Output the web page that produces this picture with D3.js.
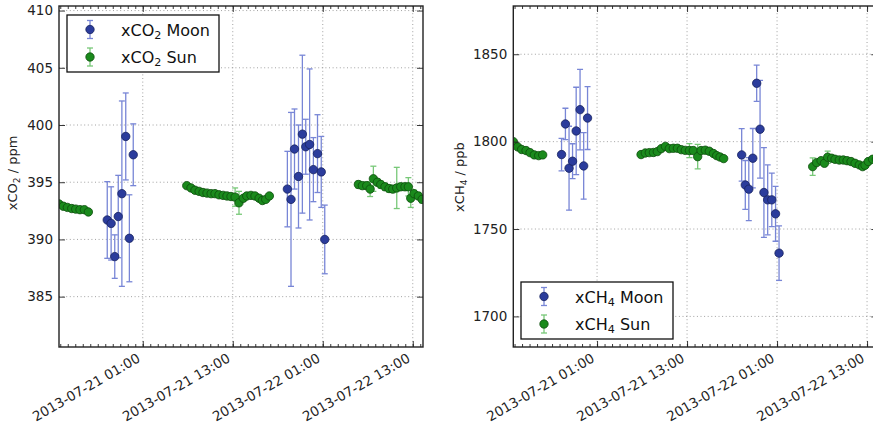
<!DOCTYPE html>
<html>
<head>
<meta charset="utf-8">
<script src="https://cdn.jsdelivr.net/npm/d3@7"></script>
<style>
body { margin: 0; background: #fff; }
svg { display: block; font-family: "DejaVu Sans", sans-serif; }
</style>
</head>
<body>
<svg width="873" height="431"></svg>
<script>
// observation times
var moonTimes = ["2013-07-20 20:16", "2013-07-20 20:47", "2013-07-20 21:16", "2013-07-20 21:44",
	"2013-07-20 22:13", "2013-07-20 22:44", "2013-07-20 23:13", "2013-07-20 23:44",
	"2013-07-21 20:17", "2013-07-21 20:46", "2013-07-21 21:14", "2013-07-21 21:46",
	"2013-07-21 22:17", "2013-07-21 22:44", "2013-07-21 23:15", "2013-07-21 23:45",
	"2013-07-22 00:18", "2013-07-22 00:48", "2013-07-22 01:16"];

var sunTimes = ["2013-07-20 13:50", "2013-07-20 14:25", "2013-07-20 14:57", "2013-07-20 15:32",
	"2013-07-20 16:04", "2013-07-20 16:38", "2013-07-20 17:13", "2013-07-20 17:45",
	"2013-07-21 06:52", "2013-07-21 07:26", "2013-07-21 07:58", "2013-07-21 08:31",
	"2013-07-21 09:02", "2013-07-21 09:34", "2013-07-21 10:07", "2013-07-21 10:38",
	"2013-07-21 11:10", "2013-07-21 11:43", "2013-07-21 12:14", "2013-07-21 12:46",
	"2013-07-21 13:19", "2013-07-21 13:50", "2013-07-21 14:25", "2013-07-21 14:52",
	"2013-07-21 15:26", "2013-07-21 15:58", "2013-07-21 16:31", "2013-07-21 16:57",
	"2013-07-21 17:24", "2013-07-21 17:53",
	"2013-07-22 05:45", "2013-07-22 06:17", "2013-07-22 06:52", "2013-07-22 07:19",
	"2013-07-22 07:45", "2013-07-22 08:17", "2013-07-22 08:44", "2013-07-22 09:18",
	"2013-07-22 09:50", "2013-07-22 10:20", "2013-07-22 10:52", "2013-07-22 11:24",
	"2013-07-22 11:58", "2013-07-22 12:25", "2013-07-22 12:44", "2013-07-22 13:10",
	"2013-07-22 13:45", "2013-07-22 14:15"];

// xCO2 (ppm)
var co2Moon = [391.7, 391.4, 388.5, 392.0, 394.0, 399.0, 390.1, 397.4,
	394.4, 393.5, 397.9, 395.5, 399.2, 398.1, 398.3, 396.1, 397.5, 395.9, 390.0];
var co2MoonErr = [3.35, 3.2, 1.9, 3.6, 8.1, 3.8, 3.8, 2.7,
	3.3, 7.6, 3.5, 4.5, 6.9, 2.4, 6.6, 2.8, 3.4, 3.1, 3.0];
var co2Sun = [393.1, 392.9, 392.8, 392.7, 392.65, 392.6, 392.6, 392.4,
	394.7, 394.5, 394.3, 394.2, 394.1, 394.05, 394.0, 394.0, 393.9, 393.85, 393.8, 393.75,
	393.7, 393.2, 393.6, 393.8, 393.85, 393.8, 393.6, 393.4, 393.5, 393.8,
	394.8, 394.7, 394.7, 394.4, 395.3, 395.0, 394.8, 394.6, 394.45, 394.4, 394.5, 394.6,
	394.6, 394.6, 393.6, 394.0, 393.8, 393.5];
var co2SunErr = [0.15, 0.15, 0.15, 0.15, 0.15, 0.15, 0.15, 0.15,
	0.15, 0.15, 0.15, 0.15, 0.15, 0.15, 0.15, 0.15, 0.15, 0.15, 0.15, 0.15,
	0.8, 1.0, 0.15, 0.15, 0.15, 0.15, 0.15, 0.15, 0.15, 0.15,
	0.3, 0.3, 0.3, 0.65, 1.1, 0.3, 0.3, 0.3, 0.3, 0.3, 1.8, 0.3,
	0.3, 0.8, 0.8, 0.3, 0.3, 0.3];

// xCH4 (ppb)
var ch4Moon = [1792.6, 1810.1, 1784.8, 1788.8, 1806.1, 1818.3, 1786.1, 1813.5,
	1792.4, 1775.2, 1772.8, 1790.5, 1833.4, 1807.1, 1770.9, 1766.7, 1766.7, 1758.7, 1736.2];
var ch4MoonErr = [9.3, 9, 24, 10, 25, 23, 19, 18,
	15, 14, 18, 17, 10.4, 28, 25.7, 20, 15.3, 15.7, 15.6];
var ch4Sun = [1800, 1797, 1795.5, 1794.9, 1793.7, 1792.4, 1792.0, 1792.4,
	1792.6, 1793.5, 1793.7, 1793.8, 1794.3, 1796.0, 1797.3, 1796.0, 1796.2, 1796.2, 1795.4, 1795.0,
	1794.9, 1794.9, 1791.4, 1794.9, 1795.1, 1794.5, 1793.2, 1792.0, 1791.2, 1790.3,
	1785.7, 1788.0, 1789.1, 1787.6, 1791.1, 1790.5, 1789.9, 1789.5, 1789.5, 1789.1, 1788.6, 1787.6,
	1786.7, 1785.7, 1786.5, 1788.6, 1789.9, 1790.0];
var ch4SunErr = [1, 1, 1, 1, 1, 1, 1, 1,
	1, 1, 1, 1, 1, 1, 1, 1, 1, 1, 1, 1,
	4, 1, 7, 1, 1, 1, 1, 1, 1, 1,
	5, 1, 1, 1, 3.5, 1, 1, 1, 1, 1, 1, 1,
	1, 1, 1, 1, 1, 1];

var xRange = ["2013-07-20 13:50", "2013-07-22 14:22"];
var xTicks = ["2013-07-21 01:00", "2013-07-21 13:00", "2013-07-22 01:00", "2013-07-22 13:00"];
var xTickLabels = ["2013-07-21 01:00", "2013-07-21 13:00", "2013-07-22 01:00", "2013-07-22 13:00"];
var co2Ticks = [385, 390, 395, 400, 405, 410];
var ch4Ticks = [1700, 1750, 1800, 1850];

var parseTime = d3.timeParse("%Y-%m-%d %H:%M");
var svg = d3.select("svg");

var blue = { fill: "#2b3c9c", edge: "#18235e", err: "#7886d6" };
var green = { fill: "#1a8a1c", edge: "#0c4c0d", err: "#78c878" };

var top_ = 6, bottom_ = 347, plotW = 364;

function drawSeries(g, x, y, times, vals, errs, c) {
	var pts = times.map(function (t, i) {
		return { t: parseTime(t), v: vals[i], e: errs[i] };
	});
	var eb = g.append("g").attr("stroke", c.err).attr("stroke-width", 1.3);
	eb.selectAll(".bar").data(pts).enter().append("line")
		.attr("x1", function (d) { return x(d.t); })
		.attr("x2", function (d) { return x(d.t); })
		.attr("y1", function (d) { return y(d.v - d.e); })
		.attr("y2", function (d) { return y(d.v + d.e); });
	[-1, 1].forEach(function (s) {
		eb.selectAll(".cap" + s).data(pts).enter().append("line")
			.attr("x1", function (d) { return x(d.t) - 3; })
			.attr("x2", function (d) { return x(d.t) + 3; })
			.attr("y1", function (d) { return y(d.v + s * d.e); })
			.attr("y2", function (d) { return y(d.v + s * d.e); });
	});
	g.append("g").selectAll("circle").data(pts).enter().append("circle")
		.attr("cx", function (d) { return x(d.t); })
		.attr("cy", function (d) { return y(d.v); })
		.attr("r", 4.2)
		.attr("fill", c.fill)
		.attr("stroke", c.edge)
		.attr("stroke-width", 0.8);
}

function label(sel, pre, sub, post, size) {
	sel.append("tspan").text(pre);
	sel.append("tspan").attr("font-size", size * 0.7).attr("dy", size * 0.2).text(sub);
	sel.append("tspan").attr("dy", -size * 0.2).text(post);
}

function panel(p) {
	var x = d3.scaleTime().domain(xRange.map(parseTime)).range([p.left, p.left + plotW]);
	var y = d3.scaleLinear().domain(p.yDomain).range([bottom_, top_]);

	svg.append("clipPath").attr("id", "clip" + p.id)
		.append("rect").attr("x", p.left).attr("y", top_)
		.attr("width", plotW).attr("height", bottom_ - top_);

	// grid
	var grid = svg.append("g").attr("stroke", "#8a8a8a").attr("stroke-width", 0.8)
		.attr("stroke-dasharray", "1,2.6");
	grid.selectAll(".gx").data(xTicks).enter().append("line")
		.attr("x1", function (d) { return x(parseTime(d)); })
		.attr("x2", function (d) { return x(parseTime(d)); })
		.attr("y1", top_).attr("y2", bottom_);
	grid.selectAll(".gy").data(p.yTicks).enter().append("line")
		.attr("x1", p.left).attr("x2", p.left + plotW)
		.attr("y1", function (d) { return y(d); })
		.attr("y2", function (d) { return y(d); });

	var data = svg.append("g").attr("clip-path", "url(#clip" + p.id + ")");
	drawSeries(data, x, y, moonTimes, p.moon, p.moonErr, blue);
	drawSeries(data, x, y, sunTimes, p.sun, p.sunErr, green);

	// axes
	var hours = d3.timeHour.range(x.domain()[0], x.domain()[1]);
	var majors = xTicks.map(parseTime);
	var axB = svg.append("g").attr("transform", "translate(0," + bottom_ + ")")
		.call(d3.axisBottom(x).tickValues(majors).tickSizeInner(-6).tickSizeOuter(0).tickPadding(8)
			.tickFormat(function (d, i) { return xTickLabels[i]; }));
	axB.selectAll("text")
		.attr("font-size", 13.5).attr("fill", "#222").attr("font-family", "DejaVu Sans")
		.attr("text-anchor", "end").attr("dy", 0).attr("y", 0)
		.attr("transform", "translate(-2,14) rotate(-30)");
	svg.append("g").attr("transform", "translate(0," + bottom_ + ")")
		.call(d3.axisBottom(x).tickValues(hours).tickSizeInner(-3).tickSizeOuter(0).tickFormat(""));
	svg.append("g").attr("transform", "translate(0," + top_ + ")")
		.call(d3.axisTop(x).tickValues(majors).tickSizeInner(-6).tickSizeOuter(0).tickFormat(""));
	svg.append("g").attr("transform", "translate(0," + top_ + ")")
		.call(d3.axisTop(x).tickValues(hours).tickSizeInner(-3).tickSizeOuter(0).tickFormat(""));
	var axL = svg.append("g").attr("transform", "translate(" + p.left + ",0)")
		.call(d3.axisLeft(y).tickValues(p.yTicks).tickSizeInner(-6).tickSizeOuter(0).tickPadding(6)
			.tickFormat(d3.format("d")));
	axL.selectAll("text").attr("font-size", 13.5).attr("fill", "#222").attr("font-family", "DejaVu Sans");
	svg.append("g").attr("transform", "translate(" + (p.left + plotW) + ",0)")
		.call(d3.axisRight(y).tickValues(p.yTicks).tickSizeInner(-6).tickSizeOuter(0).tickFormat(""));
	svg.selectAll(".domain").remove();
	svg.selectAll(".tick line").attr("stroke", "#222").attr("stroke-width", 0.9);

	svg.append("rect").attr("x", p.left).attr("y", top_)
		.attr("width", plotW).attr("height", bottom_ - top_)
		.attr("fill", "none").attr("stroke", "#222").attr("stroke-width", 1.4);

	// y label
	var yl = svg.append("text")
		.attr("transform", "translate(" + p.labelX + "," + p.labelY + ") rotate(-90)")
		.attr("text-anchor", "middle").attr("font-size", 13).attr("fill", "#222");
	label(yl, p.gas, p.sub, " / " + p.unit, 13);

	// legend
	var lg = svg.append("g").attr("transform", "translate(" + p.legX + "," + p.legY + ")");
	lg.append("rect").attr("width", 152).attr("height", 57)
		.attr("fill", "#fff").attr("stroke", "#111").attr("stroke-width", 1.3);
	[[blue, " Moon"], [green, " Sun"]].forEach(function (e, i) {
		var cy = 14.5 + i * 27.5;
		var c = e[0];
		var m = lg.append("g").attr("stroke", c.err).attr("stroke-width", 1.3);
		m.append("line").attr("x1", 23).attr("x2", 23).attr("y1", cy - 9).attr("y2", cy + 9);
		m.append("line").attr("x1", 20).attr("x2", 26).attr("y1", cy - 9).attr("y2", cy - 9);
		m.append("line").attr("x1", 20).attr("x2", 26).attr("y1", cy + 9).attr("y2", cy + 9);
		lg.append("circle").attr("cx", 23).attr("cy", cy).attr("r", 4.2)
			.attr("fill", c.fill).attr("stroke", c.edge).attr("stroke-width", 0.8);
		var t = lg.append("text").attr("x", 54).attr("y", cy + 6)
			.attr("font-size", 16).attr("fill", "#111");
		label(t, p.gas, p.sub, e[1], 16);
	});
}

panel({ id: "co2", left: 59, yDomain: [380.6, 410.4], yTicks: co2Ticks,
	moon: co2Moon, moonErr: co2MoonErr, sun: co2Sun, sunErr: co2SunErr,
	gas: "xCO", sub: "2", unit: "ppm", labelX: 17, labelY: 173,
	legX: 67, legY: 15 });

panel({ id: "ch4", left: 513.3, yDomain: [1682.5, 1877.6], yTicks: ch4Ticks,
	moon: ch4Moon, moonErr: ch4MoonErr, sun: ch4Sun, sunErr: ch4SunErr,
	gas: "xCH", sub: "4", unit: "ppb", labelX: 464, labelY: 177,
	legX: 521, legY: 282 });
</script>
</body>
</html>
